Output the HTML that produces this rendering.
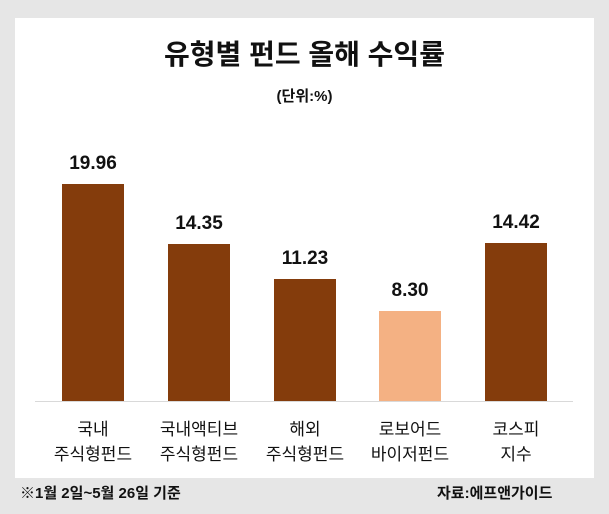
<!DOCTYPE html>
<html><head><meta charset="utf-8"><style>
body{margin:0;width:609px;height:514px;background:#e6e6e6;position:relative;overflow:hidden;font-family:"Liberation Sans","Noto Sans CJK KR",sans-serif;}
.panel{position:absolute;left:15px;top:18px;width:579px;height:460px;background:#fff;}
.t{position:absolute;width:100%;text-align:center;font-weight:bold;color:#111;}
.bar{position:absolute;width:62px;background:#843c0c;}
.v{position:absolute;width:100px;text-align:center;font-weight:bold;font-size:19px;color:#111;}
.l{position:absolute;width:120px;text-align:center;font-size:17px;line-height:25px;color:#111;}
.f{position:absolute;top:482px;font-weight:bold;font-size:15px;color:#111;}
</style></head><body>
<div class="panel"></div>
<div class="t" style="top:33px;font-size:28px;">유형별 펀드 올해 수익률</div>
<div class="t" style="top:85px;font-size:15px;">(단위:%)</div>
<div style="position:absolute;left:35px;top:401px;width:538px;height:1px;background:#d9d9d9"></div>
<div class="bar" style="left:62px;top:184px;height:217px"></div>
<div class="bar" style="left:168px;top:244px;height:157px"></div>
<div class="bar" style="left:274px;top:279px;height:122px"></div>
<div class="bar" style="left:379px;top:311px;height:90px;background:#f4b183"></div>
<div class="bar" style="left:485px;top:243px;height:158px"></div>
<div class="v" style="left:43px;top:153px">19.96</div>
<div class="v" style="left:149px;top:213px">14.35</div>
<div class="v" style="left:255px;top:248px">11.23</div>
<div class="v" style="left:360px;top:280px">8.30</div>
<div class="v" style="left:466px;top:212px">14.42</div>
<div class="l" style="left:33px;top:417px">국내<br>주식형펀드</div>
<div class="l" style="left:139px;top:417px">국내액티브<br>주식형펀드</div>
<div class="l" style="left:245px;top:417px">해외<br>주식형펀드</div>
<div class="l" style="left:350px;top:417px">로보어드<br>바이저펀드</div>
<div class="l" style="left:456px;top:417px">코스피<br>지수</div>
<div class="f" style="left:20px">※1월 2일~5월 26일 기준</div>
<div class="f" style="left:437px">자료:에프앤가이드</div>
</body></html>
